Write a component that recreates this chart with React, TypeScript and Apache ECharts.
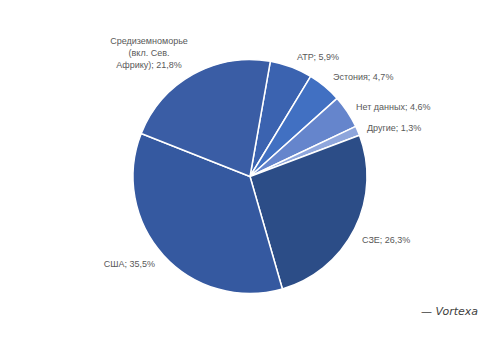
import React, { useEffect, useRef } from "react";
import * as echarts from "echarts";

const categories = [
  "АТР",
  "Эстония",
  "Нет данных",
  "Другие",
  "СЗЕ",
  "США",
  "Средиземноморье\n(вкл. Сев.\nАфрику)",
];
const values = [5.9, 4.7, 4.6, 1.3, 26.3, 35.5, 21.8];
const colors = ["#3b63b0", "#4170c2", "#6585cc", "#8ea6dc", "#2c4d87", "#3559a0", "#3a5da5"];

// label anchor points (layout only)
const labelAnchors: [number, number, string][] = [
  [297, 57, "left"],
  [333, 77, "left"],
  [356, 107, "left"],
  [367, 128, "left"],
  [362, 240, "left"],
  [155, 264, "right"],
  [149, 53, "center"],
];

export default function App() {
  const ref = useRef<HTMLDivElement>(null);
  useEffect(() => {
    const chart = echarts.init(ref.current!, null, { renderer: "svg" });
    chart.setOption({
      animation: false,
      graphic: [
        {
          type: "text",
          right: 22,
          top: 306,
          style: {
            text: "— Vortexa",
            font: "italic 11px 'DejaVu Sans'",
            fill: "#404040",
          },
        },
      ],
      series: [
        {
          type: "pie",
          center: [250, 176.5],
          radius: [0, 117],
          startAngle: 80,
          clockwise: true,
          avoidLabelOverlap: false,
          itemStyle: { borderColor: "#ffffff", borderWidth: 1.5 },
          label: {
            show: true,
            position: "outside",
            color: "#595959",
            fontSize: 9,
            fontFamily: "'Liberation Sans'",
            lineHeight: 12,
            align: "center",
            formatter: (p: any) => p.name + "; " + String(p.value).replace(".", ",") + "%",
          },
          labelLine: { show: false },
          labelLayout: (p: any) => {
            const a = labelAnchors[p.dataIndex];
            return { x: a[0], y: a[1], align: a[2], verticalAlign: "middle" };
          },
          data: categories.map((c, i) => ({
            name: c,
            value: values[i],
            itemStyle: { color: colors[i] },
          })),
        },
      ],
    });
    return () => chart.dispose();
  }, []);
  return <div ref={ref} style={{ width: 500, height: 353, margin: -8 }} />;
}
